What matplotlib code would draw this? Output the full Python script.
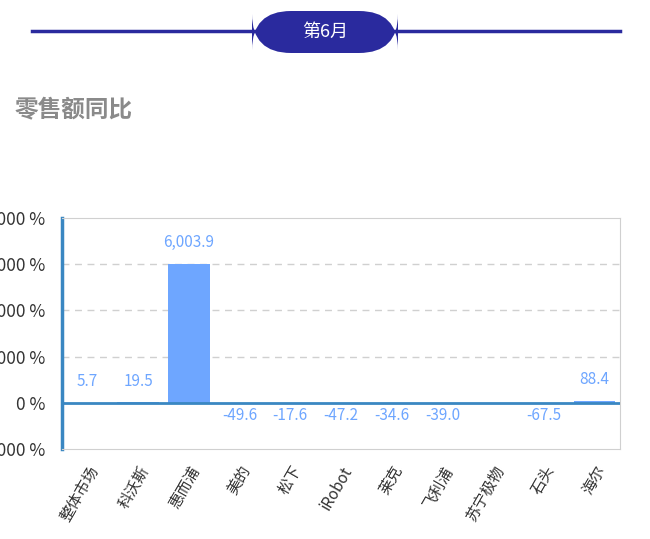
import matplotlib.pyplot as plt
from matplotlib.patches import FancyBboxPatch

plt.rcParams['font.family'] = ['Noto Sans CJK SC', 'DejaVu Sans']

brands = ['整体市场', '科沃斯', '惠而浦', '美的', '松下', 'iRobot', '莱克', '飞利浦', '苏宁极物', '石头', '海尔']
values = [5.7, 19.5, 6003.9, -49.6, -17.6, -47.2, -34.6, -39.0, None, -67.5, 88.4]
yticks = [-2000, 0, 2000, 4000, 6000, 8000]

fig = plt.figure(figsize=(6.5, 5.39), dpi=100)

# header
fig.add_artist(plt.Line2D([32/650, 620/650], [1-31/539, 1-31/539], color='#2a2a9e', lw=2.5))
pill = FancyBboxPatch((252/650, 1-53/539), 146/650, 42/539,
                      boxstyle='round,pad=0,rounding_size=0.06', transform=fig.transFigure,
                      facecolor='#2a2a9e', edgecolor='none', mutation_aspect=650/539)
fig.add_artist(pill)
fig.text(0.5, 1-32/539, '第6月', color='white', fontsize=13, ha='center', va='center')
fig.text(15/650, 1-110/539, '零售额同比', color='#8a8a8a', fontsize=17, fontweight='bold', va='center')

ax = fig.add_axes([62/650, 90/539, 558/650, 231/539])
x = list(range(len(brands)))
bar_vals = [v if v is not None else 0 for v in values]
ax.bar(x, bar_vals, width=0.82, color='#6ea6ff', zorder=2)
ax.set_xlim(-0.5, len(brands) - 0.5)
ax.set_ylim(-2000, 8000)
ax.set_yticks(yticks)
ax.set_yticklabels([f'{t} %' for t in yticks], fontsize=12.5, color='#333333')
ax.tick_params(axis='y', length=0, pad=12)
ax.tick_params(axis='x', length=0, pad=10)
ax.set_xticks(x)
ax.set_xticklabels(brands, rotation=60, ha='right', rotation_mode='anchor', fontsize=11, color='#333333')
for t in [2000, 4000, 6000]:
    ax.axhline(t, color='#d0d0d0', lw=1, ls=(0, (5, 4)), zorder=1)
ax.axhline(0, color='#3a87c2', lw=2, zorder=3)
for s in ['top', 'right', 'bottom']:
    ax.spines[s].set_color('#d0d0d0')
ax.spines['left'].set_color('#3a87c2')
ax.spines['left'].set_linewidth(2.5)

for xi, v in zip(x, values):
    if v is None:
        continue
    if v >= 0:
        ax.text(xi, max(v, 0) + 550, f'{v:,.1f}', ha='center', va='bottom', color='#6ea6ff', fontsize=11)
    else:
        ax.text(xi, -550, f'{v:,.1f}', ha='center', va='center', color='#6ea6ff', fontsize=11)

fig.savefig('out.png', dpi=100)
